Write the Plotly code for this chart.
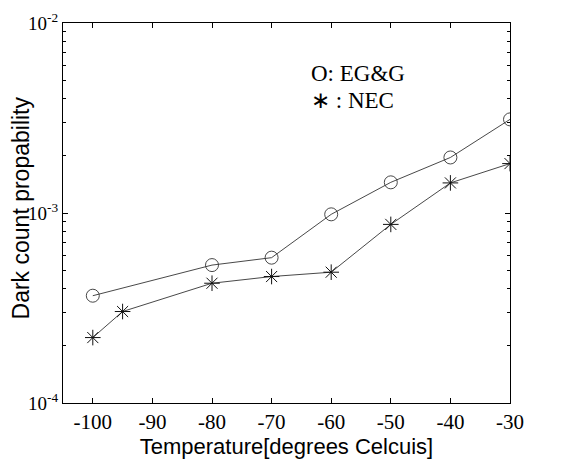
import plotly.graph_objects as go

temps_egg = [-100, -80, -70, -60, -50, -40, -30]
dark_egg = [3.67e-4, 5.32e-4, 5.82e-4, 9.84e-4, 1.45e-3, 1.96e-3, 3.11e-3]

temps_nec = [-100, -95, -80, -70, -60, -50, -40, -30]
dark_nec = [2.21e-4, 3.03e-4, 4.27e-4, 4.63e-4, 4.88e-4, 8.71e-4, 1.44e-3, 1.82e-3]

x_ticks = [-100, -90, -80, -70, -60, -50, -40, -30]
x_ticktext = ["-100", "-90", "-80", "-70", "-60", "-50", "-40", "-30"]
y_ticks = [1e-4, 1e-3, 1e-2]
y_ticktext = ["10<sup>-4</sup>", "10<sup>-3</sup>", "10<sup>-2</sup>"]
y_minor = [m * 10 ** e for e in (-4, -3) for m in range(2, 10)]

fig = go.Figure()
fig.add_trace(go.Scatter(
    x=temps_egg, y=dark_egg, mode="lines+markers", name="EG&G",
    line=dict(color="#333333", width=0.9),
    marker=dict(symbol="circle-open", size=13, color="#333333", line=dict(width=0.9)),
))
fig.add_trace(go.Scatter(
    x=temps_nec, y=dark_nec, mode="lines+markers", name="NEC",
    line=dict(color="#333333", width=0.9),
    marker=dict(symbol="asterisk-open", size=13, color="#111111", line=dict(width=1, color="#111111")),
))

fig.add_annotation(x=0.55, y=0.868, xref="paper", yref="paper", xanchor="left", yanchor="middle",
                   text="O: EG&G", showarrow=False,
                   font=dict(family="Liberation Serif", size=23, color="black"))
fig.add_annotation(x=0.55, y=0.795, xref="paper", yref="paper", xanchor="left", yanchor="middle",
                   text="∗ : NEC", showarrow=False,
                   font=dict(family="Liberation Serif", size=23, color="black"))
fig.add_annotation(x=0, y=0.512, xref="paper", yref="paper", xanchor="right", yanchor="middle",
                   xshift=-28, textangle=-90, text="Dark count propability", showarrow=False,
                   borderpad=0,
                   font=dict(family="Liberation Sans", size=23, color="black"))

fig.update_layout(
    template="simple_white",
    width=554, height=454,
    margin=dict(l=55, r=52, t=15, b=59),
    paper_bgcolor="white", plot_bgcolor="white",
    showlegend=False,
    xaxis=dict(
        automargin=False,
        range=[-105, -30], tickvals=x_ticks, ticktext=x_ticktext, ticks="inside", ticklen=5,
        showgrid=False, zeroline=False, mirror="ticks", showline=True,
        linecolor="black", linewidth=1, tickcolor="black",
        tickfont=dict(family="Liberation Serif", size=21, color="black"),
        title=dict(text="Temperature[degrees Celcuis]", standoff=0,
                   font=dict(family="Liberation Sans", size=22, color="black")),
    ),
    yaxis=dict(
        automargin=False,
        type="log", range=[-4, -2], tickvals=y_ticks, ticktext=y_ticktext,
        ticks="inside", ticklen=5, showgrid=False, zeroline=False,
        mirror="ticks", showline=True, linecolor="black", linewidth=1, tickcolor="black",
        minor=dict(tickvals=y_minor, ticks="inside", ticklen=3, tickcolor="black", showgrid=False),
        tickfont=dict(family="Liberation Serif", size=19, color="black"),
    ),
)

fig.write_html("out.html")
